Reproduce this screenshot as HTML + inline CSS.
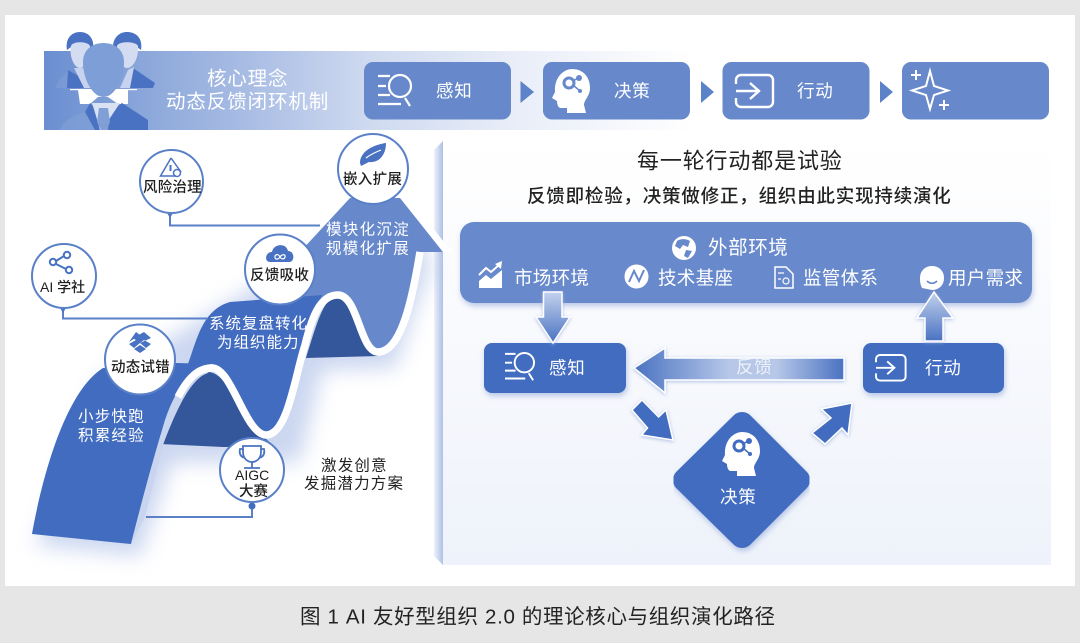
<!DOCTYPE html>
<html lang="zh">
<head>
<meta charset="utf-8">
<title>图 1</title>
<style>
html,body{margin:0;padding:0;background:#e6e6e6;width:1080px;height:643px;overflow:hidden}
svg{display:block}
text{font-family:"Liberation Sans","Noto Sans CJK SC",sans-serif;dominant-baseline:central}
.w{fill:#fff}
.d{fill:#222}
.n{fill:#1e1e1e;font-weight:500}
</style>
</head>
<body>
<svg width="1080" height="643" viewBox="0 0 1080 643" xmlns="http://www.w3.org/2000/svg">
<defs>
<linearGradient id="band" x1="0" x2="1" y1="0" y2="0">
<stop offset="0" stop-color="#6a8ed0"/><stop offset=".17" stop-color="#8ea9db"/><stop offset=".35" stop-color="#b0c2e6"/><stop offset=".5" stop-color="#cfdaf0"/><stop offset=".72" stop-color="#e8edf8"/><stop offset="1" stop-color="#fff"/>
</linearGradient>
<linearGradient id="panel" x1="0" x2="0" y1="0" y2="1">
<stop offset="0" stop-color="#fff"/><stop offset=".35" stop-color="#fafbfe"/><stop offset="1" stop-color="#eef2fa"/>
</linearGradient>
<linearGradient id="strip" x1="0" x2="1" y1="0" y2="0">
<stop offset="0" stop-color="#eef2fa"/><stop offset="1" stop-color="#adc0e6"/>
</linearGradient>
<linearGradient id="la" x1="0" x2="1" y1="0" y2="0">
<stop offset="0" stop-color="#4a72c2"/><stop offset=".45" stop-color="#b6c7e8"/><stop offset=".68" stop-color="#b6c7e8"/><stop offset="1" stop-color="#4a72c2"/>
</linearGradient>
<linearGradient id="va" x1="0" x2="0" y1="0" y2="1">
<stop offset="0" stop-color="#c3d1ed"/><stop offset="1" stop-color="#4a72c2"/>
</linearGradient>
<filter id="blur" x="-30%" y="-30%" width="160%" height="160%"><feGaussianBlur stdDeviation="10"/></filter>
<filter id="sh" x="-10%" y="-20%" width="120%" height="140%"><feDropShadow dx="1" dy="3" stdDeviation="3" flood-color="#8ea5d8" flood-opacity=".6"/></filter>
<filter id="sa" x="-30%" y="-30%" width="160%" height="160%"><feDropShadow dx="0" dy="1" stdDeviation="1.800" flood-color="#9db1de" flood-opacity=".8"/></filter>
<g id="search" fill="none" stroke="#fff" stroke-width="2.200">
<path d="M378,77H390M378,87H386M378,96H390M378,105H401"/>
<circle cx="400" cy="87" r="11"/>
<path d="M405,99L410,107"/>
</g>
<g id="head">
<path fill="#fff" d="M15,44V39H9C6,39 5,35 5,32L0,29L3,23C2,8 12,0 20,0C31,0 38,8 38,19C38,27 32,31 32,36L34,44Z"/>
<circle cx="17" cy="14" r="5" fill="none" stroke="var(--c)" stroke-width="3"/>
<circle cx="27" cy="9" r="3" fill="var(--c)"/>
<circle cx="28" cy="22" r="2" fill="var(--c)"/>
<path d="M20,12L27,9M21,16L28,22" stroke="var(--c)" stroke-width="1.500"/>
</g>
<g id="abox" fill="none" stroke="#fff" stroke-width="2.400">
<path d="M736,84V80a5,5 0 0 1 5,-5H768a5,5 0 0 1 5,5V102a5,5 0 0 1 -5,5H741a5,5 0 0 1 -5,-5V98"/>
<path d="M736,91H758M750,83L759,91L750,99"/>
</g>
</defs>

<rect width="1080" height="643" fill="#e6e6e6"/>
<rect x="5" y="15" width="1070" height="571" fill="#fff"/>

<!-- header band -->
<rect x="44" y="51" width="650" height="79" fill="url(#band)"/>

<!-- people -->
<g>
<path d="M55,88C58,80 64,74 70,71L76,88Z" fill="#7f9fd6" opacity=".6"/>
<path d="M68,71L76,88H67Z M68,70L82,78L86,88H74Z" fill="#4a72c2"/>
<path d="M74,68L80,80L84,88H92L88,68Z" fill="#c7d3ee"/>
<path d="M133,68L155,83L153,88H127Z" fill="#4a72c2"/>
<path d="M120,88L128,70L134,67L130,88Z" fill="#c7d3ee"/>
<path d="M67,50C65,38 72,32 80,32C88,32 95,38 93,50L89,47C88,42 72,42 71,47Z" fill="#4a72c2"/>
<path d="M113,50C112,38 119,32 127,32C136,32 143,38 141,50L137,47C136,42 118,42 117,47Z" fill="#4a72c2"/>
<path d="M71,46C72,41 88,41 90,46C91,56 86,68 80,68C74,68 69,56 71,46Z" fill="#d3dcf1"/>
<path d="M117,46C118,41 136,41 138,46C139,56 134,68 127,68C121,68 116,56 117,46Z" fill="#d3dcf1"/>
<rect x="70" y="89" width="67" height="1.200" fill="#fff"/>
<path d="M78,90H128V104H118L108,97H98L90,104H80Z" fill="#fff"/>
<path d="M60,130C62,122 72,116 85,112L96,130Z" fill="#7f9fd6" opacity=".7"/>
<path d="M90,103L85,112L95,130H102L98,112Z" fill="#4a72c2"/>
<path d="M122,103L148,120V130H108L110,112Z" fill="#4a72c2"/>
<path d="M92,103H120L110,118L106,130H100L96,116Z" fill="#d9e1f3"/>
<path d="M99,108H108L110,122L106,130H101L97,122Z" fill="#7f9fd6"/>
<path d="M83,62C83,50 92,43 103.500,43C115,43 124,50 124,62C124,80 114,97 103.500,97C93,97 83,80 83,62Z" fill="#7d9ed6"/>
</g>
<text x="207" y="79" class="w" font-size="19.500" letter-spacing=".8">核心理念</text>
<text x="166" y="102" class="w" font-size="19.500" letter-spacing=".9">动态反馈闭环机制</text>

<!-- process boxes -->
<rect x="364" y="62" width="147" height="57.500" rx="9" fill="#6789cb"/>
<rect x="543" y="62" width="147" height="57.500" rx="9" fill="#6789cb"/>
<rect x="722.500" y="62" width="147" height="57.500" rx="9" fill="#6789cb"/>
<rect x="902" y="62" width="147" height="57.500" rx="9" fill="#6789cb"/>
<path d="M520.500,81L534,92L520.500,103Z M701,81L714,92L701,103Z M880,81L893,92L880,103Z" fill="#5c82c8"/>
<use href="#search" transform="translate(0,-1)"/>
<text x="436" y="91" class="w" font-size="17.500" letter-spacing=".8">感知</text>
<g style="--c:#6789cb"><use href="#head" x="552" y="69"/></g>
<text x="614" y="91" class="w" font-size="17.500" letter-spacing=".8">决策</text>
<use href="#abox"/>
<text x="797" y="91" class="w" font-size="17.500" letter-spacing=".8">行动</text>
<g fill="none" stroke="#fff" stroke-width="2">
<path d="M930,71L934,86L948,90.500L934,95L930,109L926,95L912,90.500L926,86Z"/>
<path d="M911,75H921M916,70V80M939,105H949M944,100V110"/>
</g>

<!-- right panel -->
<rect x="443" y="141" width="608" height="424" fill="url(#panel)"/>
<path d="M443,141L434,150V556L443,565Z" fill="url(#strip)"/>

<text x="637" y="161" class="d" font-size="22" letter-spacing=".85">每一轮行动都是试验</text>
<text x="527" y="196" class="d" font-size="18.500" letter-spacing=".8" font-weight="500">反馈即检验，决策做修正，组织由此实现持续演化</text>

<!-- external env box -->
<rect x="460" y="222" width="572" height="81" rx="14" fill="#6789cb" filter="url(#sh)"/>
<circle cx="684" cy="248" r="12" fill="#fff"/>
<path d="M677,241C681,238 687,239 690,241L688,247L683,245L680,249L675,246Z M686,250L692,251L688,258L684,256Z" fill="#6789cb"/>
<text x="708" y="248" class="w" font-size="19.500" letter-spacing=".6">外部环境</text>
<path d="M479,288V281L486,275L491,279L502,270V288Z" fill="#fff"/>
<path d="M479,275L486,268L491,272L499,265" fill="none" stroke="#fff" stroke-width="2"/>
<path d="M495,264L502,261L501,269Z" fill="#fff"/>
<text x="514" y="278" class="w" font-size="18.500" letter-spacing=".3">市场环境</text>
<circle cx="636.500" cy="276.500" r="12" fill="#fff"/>
<path d="M629,282L634,271L639,281L644,270" fill="none" stroke="#6789cb" stroke-width="2"/>
<text x="658" y="278" class="w" font-size="18.500" letter-spacing=".3">技术基座</text>
<path d="M775,267H786L793,274V288H775Z" fill="none" stroke="#fff" stroke-width="1.500"/>
<circle cx="786" cy="281" r="3" fill="none" stroke="#fff" stroke-width="1.200"/>
<path d="M778,273H784M778,279H781" stroke="#fff" stroke-width="1.200"/>
<text x="803" y="278" class="w" font-size="18.500" letter-spacing=".3">监管体系</text>
<path d="M932,266C939,266 944,271 944,278C944,285 939,290 932,290L922,288C920,284 920,281 920,278C920,271 925,266 932,266Z" fill="#fff"/>
<path d="M927,281C930,284 934,284 937,281" fill="none" stroke="#6789cb" stroke-width="1.600"/>
<text x="948" y="278" class="w" font-size="18.500" letter-spacing=".3">用户需求</text>

<!-- flow -->
<rect x="484" y="343" width="142" height="50" rx="8" fill="#426cc0" filter="url(#sh)"/>
<rect x="863" y="343" width="141" height="50" rx="8" fill="#426cc0" filter="url(#sh)"/>
<use href="#search" transform="translate(505,353) scale(.88) translate(-378,-76)"/>
<text x="549" y="368" class="w" font-size="17.500" letter-spacing=".8">感知</text>
<use href="#abox" transform="translate(876,355) scale(.8) translate(-736,-75)"/>
<text x="925" y="368" class="w" font-size="17.500" letter-spacing=".8">行动</text>
<path d="M742,424L798,480L742,536L685,480Z" fill="#426cc0" stroke="#426cc0" stroke-width="24" stroke-linejoin="round" filter="url(#sh)"/>
<g style="--c:#426cc0"><use href="#head" x="722" y="432"/></g>
<text x="720" y="497" class="w" font-size="17.500" letter-spacing=".8">决策</text>

<g stroke="#fff" stroke-width="1.500" filter="url(#sa)">
<path d="M543.500,292H562V317H570L553,343L536,317H543.500Z" fill="url(#va)"/>
<path d="M934,292L953,318H943V341H925V318H917Z" fill="url(#va)"/>
<path d="M634,368L665,348V358H844V380H665V393Z" fill="url(#la)"/>
<path d="M642,400L632,410L647.500,428L641.600,435L673,440L666,410L658.600,417Z" fill="#426cc0"/>
<path d="M852,403L821.400,409L831,418L812,433L825,444L842,428L848,435Z" fill="#426cc0"/>
</g>
<text x="736" y="367" font-size="17.500" fill="#eef2fa" letter-spacing=".8">反馈</text>

<!-- mountain shadows -->
<g filter="url(#blur)" fill="#a9bce6" opacity=".6">
<path d="M36,545L140,556L172,462L300,462L322,370L395,368L432,262L400,215L300,260L100,380Z"/>
</g>

<!-- dark arches -->
<path d="M160,444C170,410 185,372 208,372C232,372 245,436 265,438L275,447L223,447Z" fill="#33579a"/>
<path d="M306,358C318,320 324,296 339,296C358,296 360,352 378,356Z" fill="#33579a"/>

<!-- ribbon 3 -->
<path d="M300,252L350,198L400,198L443,252L420,252C412,295 402,352 378,352C360,352 358,295 338,295C322,295 316,312 305,345L285,296Z" fill="#6789cb"/>
<path d="M399,196L443,252H452L407,196Z" fill="#fff"/>
<!-- ribbon 2 -->
<path d="M188,364C197,340 202,310 230,302L322,295C316,310 311,325 305,345C295,385 288,435 266,435C245,434 232,368 212,368C202,366 194,364 188,364Z" fill="#426cc0"/>
<!-- ribbon 1 -->
<path d="M32,534C38,500 60,395 103,368L177,363L213,364C190,365 172,395 163,427C153,460 143,497 131,544Z" fill="#426cc0"/>
<!-- light band -->
<path d="M131,544C143,497 153,460 163,427C172,395 190,365 213,364L208,373C192,378 178,405 163,445L145,517Z" fill="#c9d5ee"/>
<!-- white ribbon edge -->
<path d="M178,397C188,378 198,368 212,368C232,368 245,434 266,435C288,435 295,375 305,345C313,312 322,295 338,295C358,295 360,352 378,352C402,352 413,295 420,252" fill="none" stroke="#fff" stroke-width="7.500"/>

<!-- connectors -->
<g fill="none" stroke="#5a80c8" stroke-width="2">
<path d="M170,213V225.500H320"/>
<path d="M63,308V318.500H208"/>
<path d="M252,506V517H146"/>
</g>
<path d="M167,213H173L170,218Z M60,308H66L63,313Z" fill="#4f76c4"/>
<circle cx="252" cy="506" r="3.500" fill="#426cc0"/>

<!-- nodes -->
<g fill="#fff" stroke="#5a80c8" stroke-width="2">
<circle cx="171.500" cy="181.500" r="31.500"/>
<circle cx="373" cy="169" r="35"/>
<circle cx="280" cy="269.500" r="35"/>
<circle cx="64" cy="276" r="32"/>
<circle cx="140" cy="359.500" r="35"/>
<circle cx="252" cy="470" r="32"/>
</g>
<!-- node icons -->
<g fill="none" stroke="#4a72c2" stroke-width="1.500">
<path d="M171,158L160.500,176H176M171,158L181,172"/>
<path d="M170.500,165V171" stroke-width="2"/>
<circle cx="177" cy="173" r="3.500"/>
<circle cx="53" cy="262" r="3.200" stroke-width="2"/>
<circle cx="67" cy="255" r="3.200" stroke-width="2"/>
<circle cx="69" cy="270" r="3.200" stroke-width="2"/>
<path d="M56,261L64,256M56,264L66,269" stroke-width="2"/>
<path d="M243,446H261V452C261,459 256,462 252,462C248,462 243,459 243,452ZM243,449H240C239,454 241,457 245,458M261,449H264C265,454 263,457 259,458M252,462V468M244,468H260" stroke-width="1.800"/>
</g>
<path d="M360,163C360,152 372,145 386,143C386,155 379,163 369,162L361,166Z" fill="#4a72c2"/>
<path d="M366,158C371,154 376,152 381,150" stroke="#fff" stroke-width="1.200" fill="none"/>
<path d="M270,262C264,262 265,252 272,252C273,244 286,242 288,251C295,251 295,262 289,262Z" fill="#4a72c2"/>
<path d="M275,256C277,253 279,255 280,257C281,259 284,260 285,257C286,254 282,254 280,257C279,259 276,260 275,258Z" fill="none" stroke="#fff" stroke-width="1.200"/>
<path d="M136,332L140,335L129,342ZM144,332L151,338L140,343L133,338Z M129,344L136,340L140,343L134,348Z M151,344L144,340L140,343L146,348Z M134,349L140,345L146,349L140,353Z" fill="#4a72c2"/>

<text x="143" y="188" class="n" font-size="14.500" letter-spacing=".2">风险治理</text>
<text x="343" y="180" class="n" font-size="14.500" letter-spacing=".3">嵌入扩展</text>
<text x="250" y="276" class="n" font-size="14.500" letter-spacing=".3">反馈吸收</text>
<text x="40" y="287" class="n" font-size="14">AI 学社</text>
<text x="111" y="368" class="n" font-size="14.500" letter-spacing=".2">动态试错</text>
<text x="235" y="475" class="n" font-size="14">AIGC</text>
<text x="239" y="492" class="n" font-size="14.500">大赛</text>
<text x="321" y="466" class="d" font-size="15.500" letter-spacing="1.200">激发创意</text>
<text x="304" y="484" class="d" font-size="15.500" letter-spacing="1.200">发掘潜力方案</text>
<text x="78" y="417" class="w" font-size="15.500" letter-spacing="1.200">小步快跑</text>
<text x="78" y="436" class="w" font-size="15.500" letter-spacing="1.200">积累经验</text>
<text x="209" y="324" class="w" font-size="15.500" letter-spacing="1">系统复盘转化</text>
<text x="217" y="343" class="w" font-size="15.500" letter-spacing="1">为组织能力</text>
<text x="326" y="230" class="w" font-size="15.500" letter-spacing="1.300">模块化沉淀</text>
<text x="326" y="249" class="w" font-size="15.500" letter-spacing="1.300">规模化扩展</text>

<!-- caption -->
<text x="300" y="617" class="d" font-size="20.500" textLength="475" lengthAdjust="spacing">图 1 AI 友好型组织 2.0 的理论核心与组织演化路径</text>
</svg>
</body>
</html>
